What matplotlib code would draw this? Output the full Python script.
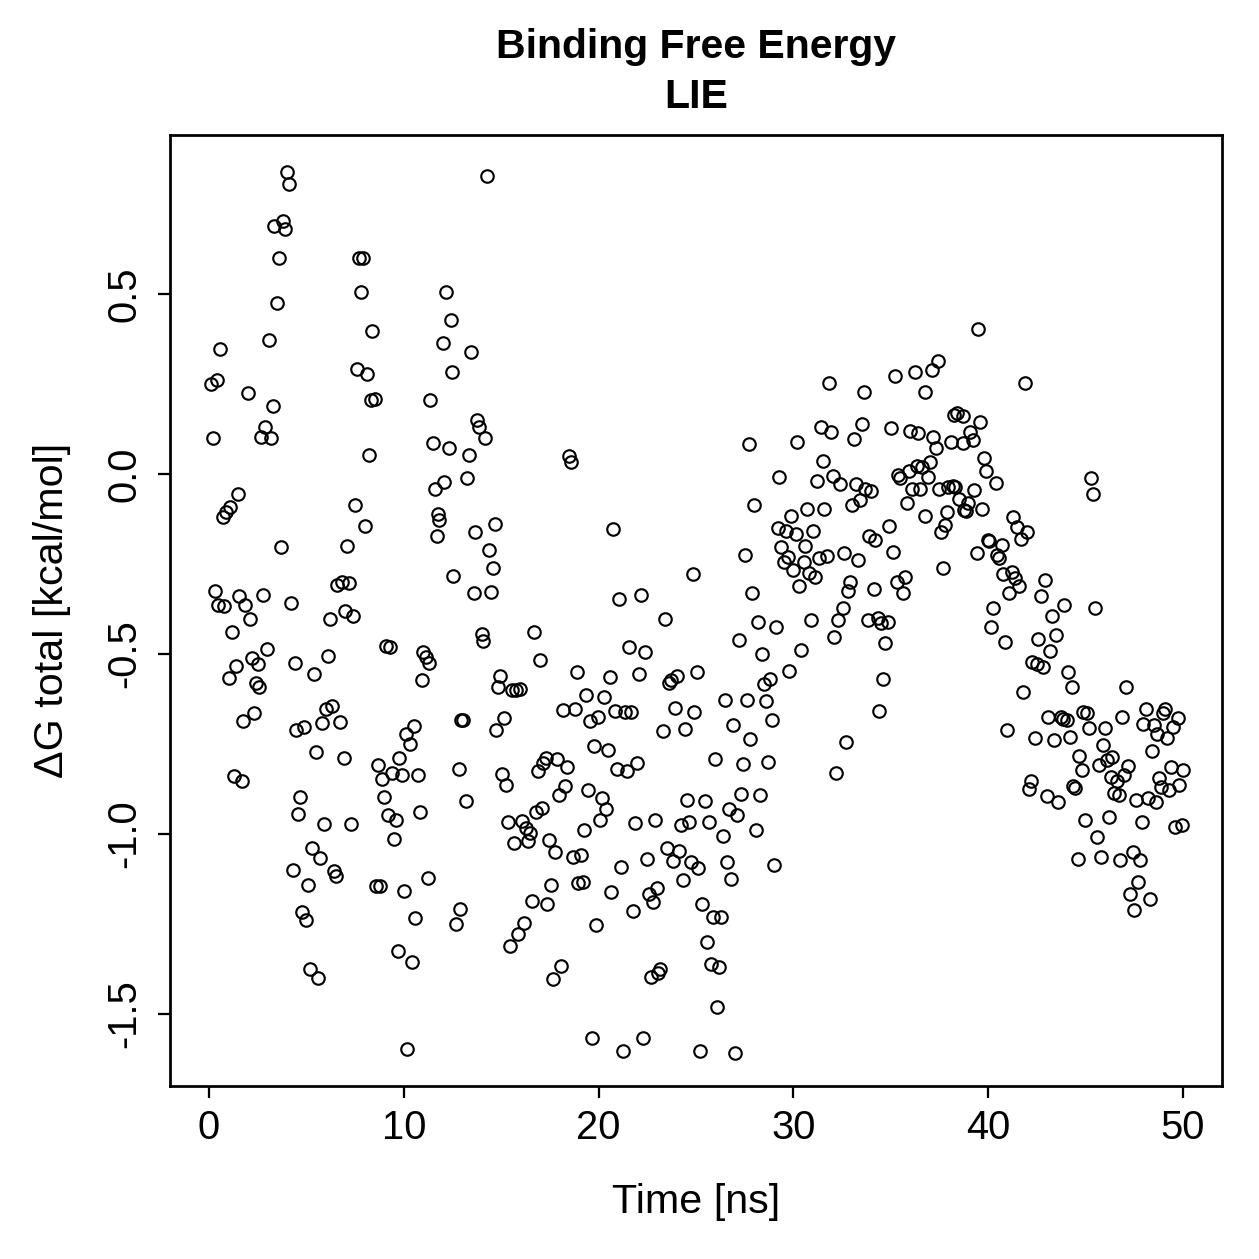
import matplotlib
matplotlib.use("Agg")
import matplotlib.pyplot as plt

plt.rcParams['font.family'] = ['Liberation Sans', 'DejaVu Sans']

time_ns = [
    0.10, 0.20, 0.31, 0.41, 0.46, 0.56, 0.72, 0.77, 0.87, 1.02, 1.08, 1.18, 1.28, 1.38, 1.49, 1.54, 1.69, 1.74, 1.84, 2.00,
    2.10, 2.20, 2.31, 2.41, 2.51, 2.56, 2.66, 2.77, 2.87, 2.97, 3.07, 3.18, 3.28, 3.33, 3.48, 3.59, 3.69, 3.79, 3.89, 4.00,
    4.10, 4.20, 4.30, 4.41, 4.46, 4.56, 4.66, 4.76, 4.87, 4.97, 5.07, 5.17, 5.28, 5.38, 5.48, 5.58, 5.69, 5.79, 5.89, 5.99,
    6.10, 6.20, 6.30, 6.40, 6.51, 6.56, 6.71, 6.81, 6.92, 6.97, 7.07, 7.17, 7.27, 7.38, 7.48, 7.58, 7.68, 7.79, 7.89, 7.99,
    8.09, 8.20, 8.30, 8.35, 8.50, 8.56, 8.66, 8.76, 8.86, 8.97, 9.07, 9.17, 9.27, 9.38, 9.48, 9.58, 9.68, 9.78, 9.89, 9.99,
    10.09, 10.19, 10.30, 10.40, 10.50, 10.60, 10.71, 10.81, 10.91, 11.01, 11.12, 11.22, 11.32, 11.37, 11.48, 11.58, 11.68, 11.78, 11.83, 11.99,
    12.09, 12.19, 12.30, 12.40, 12.50, 12.55, 12.70, 12.81, 12.91, 12.96, 13.06, 13.17, 13.27, 13.37, 13.47, 13.58, 13.68, 13.78, 13.88, 13.99,
    14.09, 14.19, 14.29, 14.40, 14.50, 14.60, 14.70, 14.75, 14.86, 14.96, 15.06, 15.16, 15.27, 15.37, 15.47, 15.57, 15.68, 15.78, 15.88, 15.98,
    16.09, 16.19, 16.29, 16.39, 16.50, 16.60, 16.70, 16.80, 16.91, 17.01, 17.11, 17.16, 17.32, 17.37, 17.47, 17.57, 17.67, 17.78, 17.88, 17.98,
    18.08, 18.19, 18.29, 18.39, 18.49, 18.60, 18.70, 18.80, 18.90, 18.95, 19.11, 19.21, 19.26, 19.36, 19.47, 19.57, 19.67, 19.77, 19.88, 19.98,
    20.08, 20.18, 20.29, 20.39, 20.49, 20.59, 20.65, 20.75, 20.85, 20.95, 21.06, 21.16, 21.26, 21.36, 21.47, 21.57, 21.67, 21.77, 21.87, 21.98,
    22.08, 22.18, 22.28, 22.39, 22.49, 22.59, 22.69, 22.80, 22.90, 23.00, 23.05, 23.16, 23.31, 23.41, 23.51, 23.62, 23.72, 23.82, 23.92, 24.03,
    24.13, 24.23, 24.33, 24.44, 24.54, 24.64, 24.74, 24.85, 24.90, 25.05, 25.10, 25.20, 25.31, 25.46, 25.56, 25.67, 25.77, 25.87, 25.97, 26.08,
    26.18, 26.28, 26.38, 26.49, 26.59, 26.69, 26.79, 26.90, 27.00, 27.10, 27.20, 27.31, 27.41, 27.51, 27.61, 27.71, 27.77, 27.87, 27.97, 28.07,
    28.18, 28.28, 28.38, 28.48, 28.59, 28.69, 28.79, 28.89, 29.00, 29.10, 29.20, 29.25, 29.35, 29.51, 29.61, 29.71, 29.76, 29.87, 29.97, 30.12,
    30.17, 30.28, 30.38, 30.53, 30.58, 30.69, 30.79, 30.89, 30.99, 31.09, 31.20, 31.30, 31.40, 31.51, 31.56, 31.71, 31.81, 31.92, 32.02, 32.07,
    32.17, 32.27, 32.38, 32.53, 32.58, 32.68, 32.79, 32.89, 32.99, 33.09, 33.20, 33.30, 33.40, 33.50, 33.61, 33.66, 33.81, 33.86, 33.97, 34.12,
    34.17, 34.32, 34.37, 34.48, 34.58, 34.68, 34.83, 34.89, 34.99, 35.09, 35.19, 35.30, 35.35, 35.45, 35.60, 35.71, 35.81, 35.91, 35.96, 36.07,
    36.22, 36.32, 36.42, 36.48, 36.58, 36.73, 36.78, 36.89, 36.99, 37.09, 37.19, 37.30, 37.40, 37.45, 37.60, 37.70, 37.76, 37.86, 37.96, 38.11,
    38.17, 38.22, 38.32, 38.42, 38.52, 38.68, 38.73, 38.78, 38.88, 38.98, 39.09, 39.24, 39.29, 39.40, 39.50, 39.60, 39.70, 39.80, 39.91, 40.01,
    40.06, 40.16, 40.27, 40.42, 40.47, 40.57, 40.73, 40.78, 40.88, 40.98, 41.09, 41.24, 41.29, 41.39, 41.50, 41.60, 41.70, 41.80, 41.91, 42.01,
    42.11, 42.21, 42.26, 42.42, 42.52, 42.57, 42.73, 42.83, 42.93, 43.03, 43.08, 43.19, 43.29, 43.39, 43.49, 43.60, 43.75, 43.85, 43.90, 44.06,
    44.11, 44.21, 44.31, 44.36, 44.47, 44.62, 44.67, 44.83, 44.88, 44.98, 45.08, 45.18, 45.29, 45.39, 45.49, 45.59, 45.70, 45.80, 45.90, 46.00,
    46.11, 46.21, 46.31, 46.36, 46.47, 46.62, 46.72, 46.77, 46.88, 46.98, 47.08, 47.18, 47.28, 47.44, 47.49, 47.59, 47.69, 47.80, 47.90, 47.95,
    48.10, 48.21, 48.31, 48.41, 48.51, 48.62, 48.67, 48.77, 48.87, 48.98, 49.08, 49.18, 49.28, 49.39, 49.49, 49.59, 49.74, 49.80, 49.95, 50.00,
]

dG_total = [
    0.250, 0.100, -0.325, 0.261, -0.364, 0.347, -0.119, -0.367, -0.106, -0.567, -0.092, -0.439, -0.839, -0.533, -0.056, -0.339, -0.853, -0.686, -0.364, 0.225,
    -0.403, -0.511, -0.664, -0.581, -0.528, -0.592, 0.103, -0.336, 0.131, -0.486, 0.372, 0.100, 0.189, 0.689, 0.475, 0.600, -0.203, 0.703, 0.681, 0.839,
    0.806, -0.358, -1.100, -0.525, -0.711, -0.944, -0.897, -1.217, -0.703, -1.239, -1.142, -1.375, -1.039, -0.556, -0.772, -1.400, -1.067, -0.692, -0.972, -0.653,
    -0.506, -0.403, -0.644, -1.103, -1.117, -0.308, -0.689, -0.300, -0.789, -0.381, -0.200, -0.303, -0.972, -0.394, -0.086, 0.292, 0.600, 0.506, 0.600, -0.144,
    0.278, 0.053, 0.206, 0.397, 0.208, -1.144, -0.808, -1.144, -0.847, -0.897, -0.478, -0.947, -0.481, -0.831, -1.014, -0.961, -1.325, -0.789, -0.836, -1.158,
    -0.722, -1.597, -0.750, -1.356, -0.700, -1.233, -0.836, -0.939, -0.572, -0.494, -0.508, -1.122, -0.525, 0.206, 0.086, -0.042, -0.172, -0.111, -0.128, 0.364,
    -0.022, 0.506, 0.072, 0.428, 0.283, -0.283, -1.250, -0.819, -1.208, -0.683, -0.683, -0.908, -0.011, 0.053, 0.339, -0.331, -0.161, 0.150, 0.131, -0.444,
    -0.464, 0.100, 0.828, -0.211, -0.328, -0.261, -0.139, -0.711, -0.592, -0.561, -0.833, -0.678, -0.864, -0.967, -1.311, -0.600, -1.025, -0.600, -1.278, -0.597,
    -0.964, -1.247, -0.983, -1.019, -0.997, -1.186, -0.439, -0.939, -0.825, -0.517, -0.928, -0.803, -0.789, -1.194, -1.017, -1.142, -1.403, -1.050, -0.792, -0.892,
    -1.367, -0.656, -0.867, -0.814, 0.050, 0.033, -1.064, -0.653, -0.550, -1.136, -1.058, -1.133, -0.989, -0.614, -0.878, -0.686, -1.567, -0.756, -1.253, -0.675,
    -0.961, -0.900, -0.619, -0.931, -0.767, -0.564, -1.161, -0.153, -0.658, -0.819, -0.347, -1.092, -1.603, -0.661, -0.825, -0.481, -0.661, -1.214, -0.969, -0.803,
    -0.556, -0.336, -1.567, -0.494, -1.069, -1.167, -1.397, -1.189, -0.961, -1.150, -1.386, -1.375, -0.714, -0.403, -1.039, -0.581, -0.572, -1.075, -0.650, -0.561,
    -1.047, -0.975, -1.128, -0.708, -0.906, -0.967, -1.078, -0.278, -0.661, -0.550, -1.094, -1.603, -1.194, -0.908, -1.300, -0.967, -1.361, -1.231, -0.792, -1.481,
    -1.369, -1.231, -1.006, -0.628, -1.078, -0.931, -1.125, -0.697, -1.608, -0.947, -0.461, -0.889, -0.806, -0.225, -0.628, 0.083, -0.736, -0.331, -0.086, -0.989,
    -0.411, -0.892, -0.500, -0.583, -0.631, -0.800, -0.569, -0.683, -1.086, -0.425, -0.150, -0.008, -0.203, -0.244, -0.158, -0.231, -0.547, -0.117, -0.267, -0.167,
    0.089, -0.311, -0.489, -0.244, -0.200, -0.097, -0.275, -0.406, -0.158, -0.286, -0.019, -0.233, 0.131, 0.036, -0.097, -0.228, 0.253, 0.117, -0.006, -0.453,
    -0.831, -0.406, -0.028, -0.372, -0.219, -0.744, -0.325, -0.300, -0.086, 0.097, -0.028, -0.239, -0.072, 0.139, 0.228, -0.042, -0.406, -0.172, -0.047, -0.319,
    -0.183, -0.400, -0.658, -0.414, -0.569, -0.469, -0.411, -0.144, 0.128, -0.217, 0.272, -0.300, -0.003, -0.011, -0.331, -0.286, -0.081, 0.008, 0.119, -0.042,
    0.283, 0.022, 0.114, -0.042, 0.019, 0.228, -0.117, -0.008, 0.033, 0.289, 0.103, 0.072, 0.314, -0.042, -0.161, -0.261, -0.142, -0.106, -0.036, 0.089,
    -0.033, 0.164, -0.036, 0.169, -0.069, 0.161, 0.086, -0.100, -0.103, -0.081, 0.117, 0.094, -0.044, -0.219, 0.403, 0.144, -0.097, 0.044, 0.008, -0.183,
    -0.186, -0.425, -0.372, -0.025, -0.225, -0.233, -0.197, -0.278, -0.467, -0.711, -0.331, -0.272, -0.119, -0.289, -0.147, -0.311, -0.181, -0.606, 0.253, -0.161,
    -0.875, -0.853, -0.522, -0.733, -0.528, -0.458, -0.339, -0.536, -0.294, -0.894, -0.675, -0.492, -0.394, -0.739, -0.447, -0.911, -0.675, -0.681, -0.364, -0.683,
    -0.550, -0.731, -0.592, -0.867, -0.872, -1.069, -0.783, -0.822, -0.661, -0.961, -0.664, -0.706, -0.011, -0.056, -0.372, -1.008, -0.808, -1.064, -0.753, -0.706,
    -0.794, -0.953, -0.842, -0.786, -0.886, -0.853, -0.892, -1.072, -0.675, -0.836, -0.592, -0.811, -1.167, -1.050, -1.211, -0.906, -1.133, -1.072, -0.967, -0.694,
    -0.653, -0.900, -1.181, -0.769, -0.697, -0.911, -0.722, -0.844, -0.869, -0.664, -0.653, -0.733, -0.878, -0.814, -0.703, -0.981, -0.678, -0.864, -0.975, -0.822,
]

x_ticks = [0, 10, 20, 30, 40, 50]
y_ticks = [-1.5, -1.0, -0.5, 0.0, 0.5]
y_tick_labels = ["-1.5", "-1.0", "-0.5", "0.0", "0.5"]

W = 1259
DPI = 180
fig = plt.figure(figsize=(W / DPI, W / DPI), dpi=DPI)
fig.patch.set_facecolor('white')

left, right, top, bottom = 170, 1222, 135, 1086
ax = fig.add_axes([left / W, 1 - bottom / W, (right - left) / W, (bottom - top) / W])

ax.plot(time_ns, dG_total, linestyle='none', marker='o', markerfacecolor='none',
        markeredgecolor='black', markersize=5.0, markeredgewidth=0.85)

ax.set_xlim(-2, 52)
ax.set_ylim(-1.70, 0.942)

ax.set_xticks(x_ticks)
ax.set_xticklabels([str(t) for t in x_ticks])
ax.set_yticks(y_ticks)
ax.set_yticklabels(y_tick_labels, rotation=90, va='center')

ax.tick_params(direction='out', length=4.8, width=0.9, labelsize=16, colors='black')
ax.tick_params(axis='x', pad=4.5)
ax.tick_params(axis='y', pad=5.8)
for s in ax.spines.values():
    s.set_linewidth(1.1)
    s.set_color('black')

fig.text(696 / W, 1 - 47 / W, "Binding Free Energy", ha='center', va='center',
         fontsize=16.4, fontweight='bold')
fig.text(696 / W, 1 - 97 / W, "LIE", ha='center', va='center',
         fontsize=16.4, fontweight='bold')
fig.text(696 / W, 1 - 1202 / W, "Time [ns]", ha='center', va='center', fontsize=16.5)
fig.text(52 / W, 1 - 610 / W, "ΔG total [kcal/mol]", ha='center', va='center',
         fontsize=16.5, rotation=90)

fig.savefig("out.png", dpi=DPI, facecolor='white')
